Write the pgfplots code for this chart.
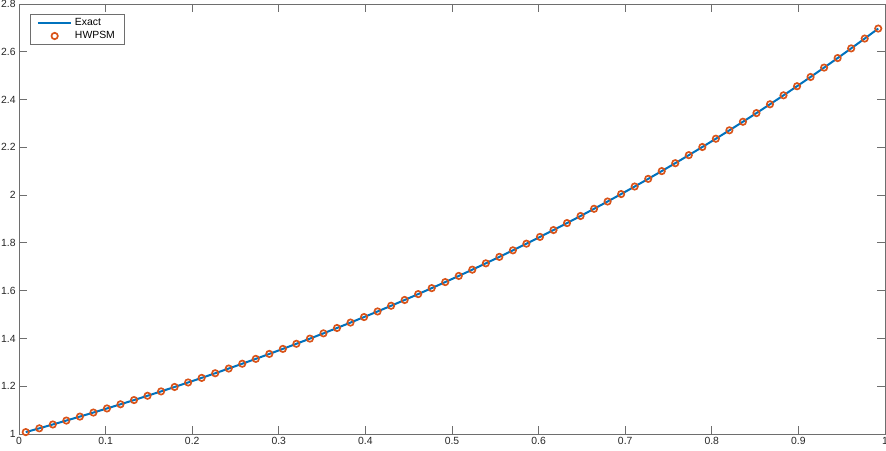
\documentclass[border=0pt]{standalone}
\usepackage{fontspec}
\setmainfont{Liberation Sans}
\usepackage{pgfplots}
\pgfplotsset{compat=1.18}
\usepackage{pgfplotstable}

\definecolor{mblue}{RGB}{0,114,189}
\definecolor{morange}{RGB}{217,83,25}
\definecolor{maxis}{RGB}{110,110,110}

\pgfplotsset{
  legend image code/.code={
    \draw[mark repeat=2,mark phase=2,#1] plot coordinates {(0pt,0pt) (12.5pt,0pt) (25pt,0pt)};
  },
}

% x = (2i-1)/128, exact solution values
\pgfplotstableread{
x y
0.0078125 1.007843
0.0234375 1.023714
0.0390625 1.039835
0.0546875 1.056210
0.0703125 1.072843
0.0859375 1.089738
0.1015625 1.106899
0.1171875 1.124330
0.1328125 1.142036
0.1484375 1.160020
0.1640625 1.178288
0.1796875 1.196843
0.1953125 1.215691
0.2109375 1.234835
0.2265625 1.254281
0.2421875 1.274033
0.2578125 1.294096
0.2734375 1.314475
0.2890625 1.335175
0.3046875 1.356201
0.3203125 1.377558
0.3359375 1.399252
0.3515625 1.421287
0.3671875 1.443669
0.3828125 1.466403
0.3984375 1.489496
0.4140625 1.512952
0.4296875 1.536778
0.4453125 1.560979
0.4609375 1.585561
0.4765625 1.610530
0.4921875 1.635892
0.5078125 1.661652
0.5234375 1.687819
0.5390625 1.714398
0.5546875 1.741396
0.5703125 1.768819
0.5859375 1.796674
0.6015625 1.824968
0.6171875 1.853707
0.6328125 1.882899
0.6484375 1.912550
0.6640625 1.942668
0.6796875 1.973261
0.6953125 2.004335
0.7109375 2.035899
0.7265625 2.067960
0.7421875 2.100526
0.7578125 2.133604
0.7734375 2.167203
0.7890625 2.201331
0.8046875 2.235997
0.8203125 2.271209
0.8359375 2.306975
0.8515625 2.343305
0.8671875 2.380206
0.8828125 2.417689
0.8984375 2.455762
0.9140625 2.494435
0.9296875 2.533717
0.9453125 2.573617
0.9609375 2.614146
0.9765625 2.655313
0.9921875 2.697128
}\sol

\begin{document}
\begin{tikzpicture}
\begin{axis}[
  name=ax,
  scale only axis,
  width=649.5pt,
  height=322.5pt,
  xmin=0, xmax=1,
  ymin=1, ymax=2.8,
  xtick={0,0.1,...,1},
  ytick={1,1.2,...,2.8},
  xticklabels={0,0.1,0.2,0.3,0.4,0.5,0.6,0.7,0.8,0.9,1},
  yticklabels={1,1.2,1.4,1.6,1.8,2,2.2,2.4,2.6,2.8},
  tick align=inside,
  major tick length=6pt,
  axis line style={maxis, line width=0.6pt},
  every tick/.style={maxis, line width=0.6pt},
  tick label style={font=\fontsize{7.8}{9}\selectfont, text=black!85},
  xticklabel style={yshift=1pt},
  yticklabel style={xshift=1pt},
  /pgf/number format/assume math mode=true,
  legend style={
    at={(0.0127,0.977)}, anchor=north west,
    draw=maxis, line width=0.5pt,
    font=\fontsize{7.8}{9}\selectfont,
    inner xsep=5pt, inner ysep=1pt,
    row sep=-1pt,
  },
  legend cell align=left,
]
\addplot[color=mblue, line width=1.5pt, mark=none] table[x=x,y=y] {\sol};
\addlegendentry{Exact}
\addplot[only marks, mark=o, mark size=2.4pt,
  mark options={draw=morange, line width=1.25pt}] table[x=x,y=y] {\sol};
\addlegendentry{HWPSM}
\end{axis}
\pgfresetboundingbox
\path ([shift={(-14.25pt,-12.75pt)}]ax.south west) rectangle ([shift={(0.75pt,3pt)}]ax.north east);
\end{tikzpicture}
\end{document}
